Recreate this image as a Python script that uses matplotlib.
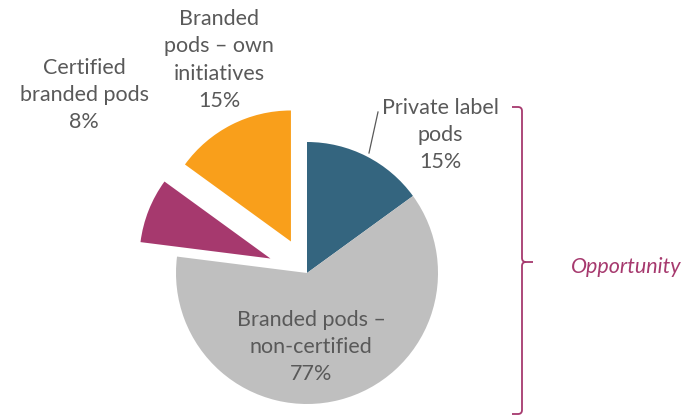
import matplotlib.pyplot as plt
from matplotlib.path import Path
from matplotlib.patches import PathPatch

# slice data (drawn shares), clockwise from 12 o'clock
segments = ["Private label\npods", "Branded pods –\nnon-certified",
            "Certified\nbranded pods", "Branded\npods – own\ninitiatives"]
shares = [15, 62, 8, 15]
shown_pct = ["15%", "77%", "8%", "15%"]
colors = ["#34657F", "#BFBFBF", "#A6396E", "#F99F1B"]
explode_frac = [0, 0, 0.30, 0.27]   # as fraction of radius

text_col = "#595959"
accent = "#A6396E"

plt.rcParams['font.family'] = ['Lato', 'DejaVu Sans']

W, H = 698, 417
fig = plt.figure(figsize=(W / 100, H / 100), dpi=100)
ax = fig.add_axes([0, 0, 1, 1])

cx, cy, r = 307, H - 273, 131
# matplotlib's explode offset is in data units, so scale by radius
ax.pie(shares, colors=colors, explode=[e * r for e in explode_frac],
       startangle=90, counterclock=False, center=(cx, cy), radius=r,
       wedgeprops=dict(linewidth=0), frame=True)
ax.set_xlim(0, W)
ax.set_ylim(0, H)
ax.axis('off')

fs = 15.5
# label positions (pixel coords, y from top)
lab_pos = [(440, 135), (311, 347), (84, 95), (219, 60)]
for lab, pct, (x, y) in zip(segments, shown_pct, lab_pos):
    ax.text(x, H - y, lab + "\n" + pct, ha='center', va='center',
            fontsize=fs, color=text_col, linespacing=1.45)

# leader line for private label
ax.plot([378, 369], [H - 112, H - 153], color=text_col, lw=0.9)

# bracket
bx, top, mid, bot = 522, H - 107, H - 262, H - 414
k = 4
verts = [(512, top), (bx - k, top), (bx, top), (bx, top - k),
         (bx, mid + k), (bx, mid), (bx + k, mid), (533, mid),
         (bx + k, mid), (bx, mid), (bx, mid - k),
         (bx, bot + k), (bx, bot), (bx - k, bot), (512, bot)]
codes = [Path.MOVETO, Path.LINETO, Path.CURVE3, Path.CURVE3,
         Path.LINETO, Path.CURVE3, Path.CURVE3, Path.LINETO,
         Path.MOVETO, Path.CURVE3, Path.CURVE3,
         Path.LINETO, Path.CURVE3, Path.CURVE3, Path.LINETO]
ax.add_patch(PathPatch(Path(verts, codes), fill=False, edgecolor=accent, lw=1.3))

ax.text(571, H - 267, "Opportunity", ha='left', va='center', fontsize=fs,
        color=accent, style='italic')

fig.savefig("out.png", dpi=100)
